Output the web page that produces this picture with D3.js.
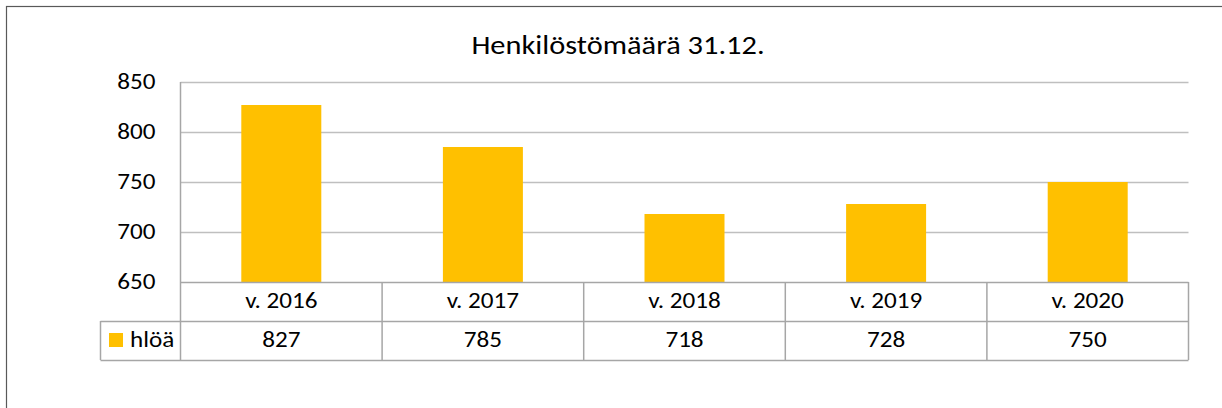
<!DOCTYPE html>
<html>
    <head>
        <script src="https://d3js.org/d3.v7.min.js"></script>
        <style>
          body { margin: 0; background: #ffffff; }
          #chart { width: 1222px; height: 408px; }
          text { font-family: Carlito, Calibri, Lato, "Open Sans", sans-serif; fill: #000000; }
      </style>
    </head>
    <body>
        <div id="chart"></div>
        <script>

            /* DATA */
            var categories = ["v. 2016", "v. 2017", "v. 2018", "v. 2019", "v. 2020"];
            var values = [827, 785, 718, 728, 750];
            var seriesName = "hlöä";
            var yTicks = [650, 700, 750, 800, 850];
            var title = "Henkilöstömäärä 31.12.";

            var width = 1222, height = 408;
            // the source picture is a little stretched sideways
            var stretch = 1.17;
            var svg = d3.select("#chart")
                .append("svg")
                .attr("width", width)
                .attr("height", height);

            function place(x, y) {
                return "translate(" + x + "," + y + ") scale(" + stretch + ",1)";
            }

            // outer frame (runs off the right and bottom edge)
            svg.append("rect")
                .attr("x", 6.5).attr("y", 6.5)
                .attr("width", 1230).attr("height", 420)
                .attr("fill", "none")
                .attr("stroke", "#595959")
                .attr("stroke-width", 1.2);

            var plotLeft = 180.5, plotRight = 1188.5, plotTop = 82, plotBottom = 282;
            var rowH = 39;

            var x = d3.scaleBand()
                .domain(categories)
                .range([plotLeft, plotRight])
                .paddingInner(0)
                .paddingOuter(0);

            var y = d3.scaleLinear()
                .domain([650, 850])
                .range([plotBottom, plotTop]);

            /* GRIDLINES */
            svg.append("g")
                .selectAll("line")
                .data(yTicks.filter(function(d) { return d > 650; }))
                .enter()
                .append("line")
                    .attr("x1", plotLeft)
                    .attr("x2", plotRight)
                    .attr("y1", function(d) { return Math.round(y(d)) + 0.5; })
                    .attr("y2", function(d) { return Math.round(y(d)) + 0.5; })
                    .attr("stroke", "#bfbfbf")
                    .attr("stroke-width", 1.5);

            /* BARS */
            var barW = 80;
            svg.append("g")
                .selectAll("rect")
                .data(values)
                .enter()
                .append("rect")
                    .attr("x", function(d, i) { return x(categories[i]) + x.bandwidth() / 2 - barW / 2; })
                    .attr("y", function(d) { return y(d); })
                    .attr("width", barW)
                    .attr("height", function(d) { return y(650) - y(d); })
                    .attr("fill", "#ffc000");

            /* Y AXIS LABELS */
            var yAxis = d3.axisLeft(y)
                .tickValues(yTicks)
                .tickSize(0)
                .tickPadding(0);
            var yg = svg.append("g")
                .call(yAxis);
            yg.select(".domain").remove();
            yg.selectAll(".tick").attr("transform", null);
            yg.selectAll("text")
                .attr("x", null)
                .attr("dy", null)
                .attr("transform", function(d) { return place(155.5, y(d) + 7); })
                .style("font-size", "21.5px");

            /* DATA TABLE */
            var tbl = svg.append("g");
            var tblColor = "#a6a6a6";

            // vertical left edge of plot, down through the table
            tbl.append("line")
                .attr("x1", plotLeft).attr("x2", plotLeft)
                .attr("y1", plotTop).attr("y2", plotBottom + 2 * rowH)
                .attr("stroke", tblColor).attr("stroke-width", 1.5);

            // column separators
            tbl.selectAll(".col")
                .data(categories)
                .enter()
                .append("line")
                    .attr("x1", function(d) { return x(d) + x.bandwidth(); })
                    .attr("x2", function(d) { return x(d) + x.bandwidth(); })
                    .attr("y1", plotBottom)
                    .attr("y2", plotBottom + 2 * rowH)
                    .attr("stroke", tblColor).attr("stroke-width", 1.5);

            // horizontal rules
            [plotBottom, plotBottom + rowH, plotBottom + 2 * rowH].forEach(function(yy, i) {
                tbl.append("line")
                    .attr("x1", i === 0 ? plotLeft : 100.5)
                    .attr("x2", plotRight)
                    .attr("y1", yy + 0.5).attr("y2", yy + 0.5)
                    .attr("stroke", tblColor).attr("stroke-width", 1.5);
            });
            tbl.append("line")
                .attr("x1", 100.5).attr("x2", 100.5)
                .attr("y1", plotBottom + rowH).attr("y2", plotBottom + 2 * rowH)
                .attr("stroke", tblColor).attr("stroke-width", 1.5);

            // category labels
            tbl.selectAll(".cat")
                .data(categories)
                .enter()
                .append("text")
                    .attr("transform", function(d) { return place(x(d) + x.bandwidth() / 2, 308); })
                    .attr("text-anchor", "middle")
                    .style("font-size", "21.5px")
                    .text(function(d) { return d; });

            // values
            tbl.selectAll(".val")
                .data(values)
                .enter()
                .append("text")
                    .attr("transform", function(d, i) { return place(x(categories[i]) + x.bandwidth() / 2, 347); })
                    .attr("text-anchor", "middle")
                    .style("font-size", "21.5px")
                    .text(function(d) { return d; });

            // legend key
            tbl.append("rect")
                .attr("x", 109).attr("y", 333)
                .attr("width", 14).attr("height", 14)
                .attr("fill", "#ffc000");
            tbl.append("text")
                .attr("transform", place(130, 347))
                .style("font-size", "21.5px")
                .text(seriesName);

            /* TITLE */
            svg.append("text")
                .attr("transform", place(618, 54))
                .attr("text-anchor", "middle")
                .style("font-size", "26px")
                .text(title);

        </script>
    </body>
</html>
